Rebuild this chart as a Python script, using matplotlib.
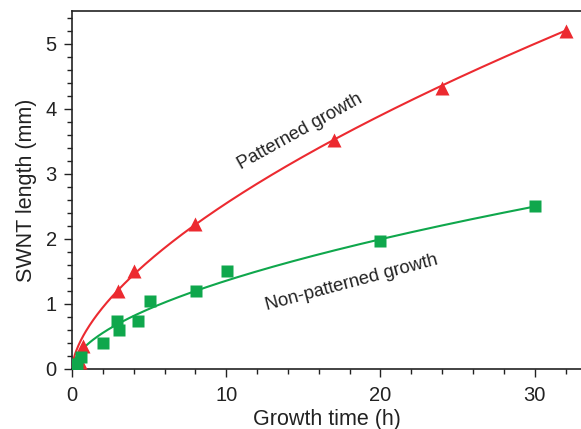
import numpy as np
import matplotlib
matplotlib.use("Agg")
import matplotlib.pyplot as plt
from matplotlib.ticker import MultipleLocator

plt.rcParams['font.family'] = ['Liberation Sans', 'DejaVu Sans']

# Patterned growth (red triangles)
pat_t = [0.5, 0.7, 3.0, 4.0, 8.0, 17.0, 24.0, 32.0]
pat_len = [0.10, 0.35, 1.20, 1.51, 2.22, 3.52, 4.32, 5.20]
# Non-patterned growth (green squares)
non_t = [0.3, 0.6, 2.0, 2.9, 3.05, 4.3, 5.05, 8.05, 10.05, 20.0, 30.0]
non_len = [0.08, 0.19, 0.40, 0.73, 0.60, 0.74, 1.04, 1.20, 1.50, 1.97, 2.51]

# Power-law fit parameters y = a * t^b
pat_fit = (0.619, 0.614)
non_fit = (0.378, 0.555)

red = '#ec2a30'
green = '#0fa74c'
ink = '#222222'

fig = plt.figure(figsize=(5.81, 4.29), dpi=100)
ax = fig.add_axes([72/581, 1-369/429, 1-72/581, (369-11)/429])

t1 = np.linspace(0.02, max(pat_t), 400)
t2 = np.linspace(0.02, max(non_t), 400)
ax.plot(t1, pat_fit[0]*t1**pat_fit[1], color=red, lw=1.5, zorder=2)
ax.plot(t2, non_fit[0]*t2**non_fit[1], color=green, lw=1.5, zorder=2)
ax.plot(pat_t, pat_len, '^', color=red, ms=10, mec='none', zorder=3)
ax.plot(non_t, non_len, 's', color=green, ms=8.5, mec='none', zorder=3)

ax.set_xlim(0, 33)
ax.set_ylim(0, 5.5)
ax.xaxis.set_major_locator(MultipleLocator(10))
ax.xaxis.set_minor_locator(MultipleLocator(2))
ax.yaxis.set_major_locator(MultipleLocator(1))
ax.yaxis.set_minor_locator(MultipleLocator(0.2))
ax.tick_params(which='major', direction='out', length=6, width=1, labelsize=14.5, colors=ink)
ax.tick_params(which='minor', direction='out', length=3.5, width=1, colors=ink)
ax.tick_params(axis='x', pad=6)
ax.tick_params(axis='y', pad=5)
ax.spines['right'].set_visible(False)
for s in ['left', 'bottom', 'top']:
    ax.spines[s].set_linewidth(1.2)
    ax.spines[s].set_color(ink)

ax.set_xlabel('Growth time (h)', fontsize=15.5, color=ink, labelpad=3)
ax.set_ylabel('SWNT length (mm)', fontsize=15.5, color=ink, labelpad=6)

ax.text(14.8, 3.65, 'Patterned growth', rotation=29, fontsize=13.2, ha='center', va='center',
        color=ink, rotation_mode='anchor')
ax.text(18.1, 1.33, 'Non-patterned growth', rotation=15, fontsize=13.2, ha='center', va='center',
        color=ink, rotation_mode='anchor')

fig.savefig('out.png', dpi=100)
